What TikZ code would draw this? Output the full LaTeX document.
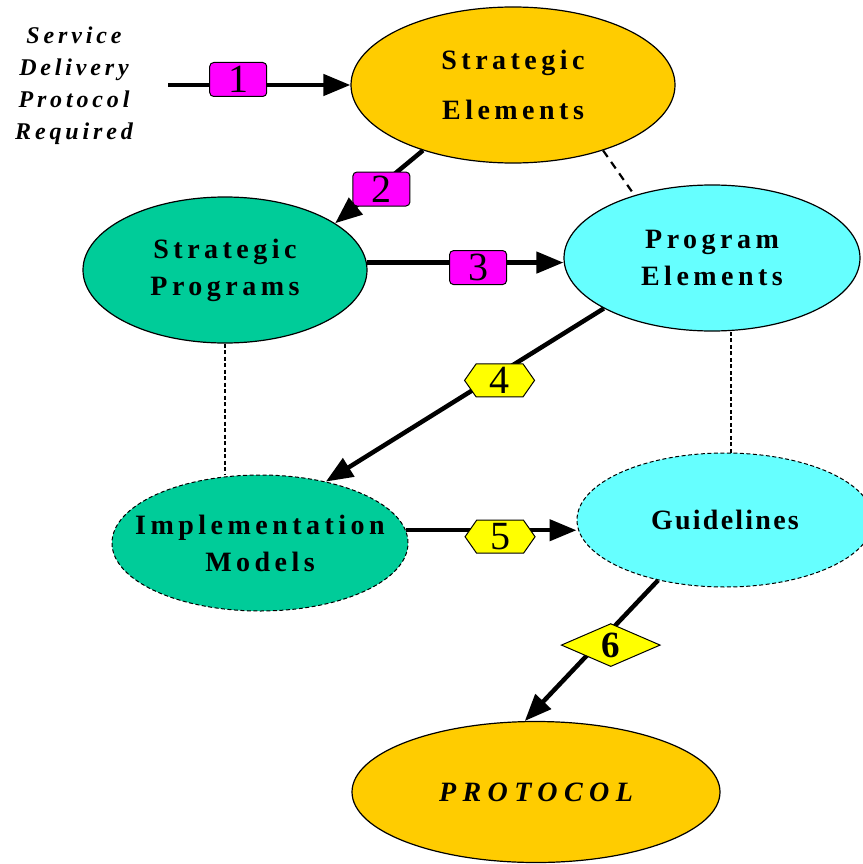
\documentclass[tikz,border=0pt]{standalone}
\usepackage{fontspec}
\setmainfont{Liberation Serif}
\newfontfamily\widefont[LetterSpace=16]{Liberation Serif}
\newfontfamily\guidefont[LetterSpace=8]{Liberation Serif}
\newfontfamily\protofont[LetterSpace=23]{Liberation Serif}
\usepackage{tikz}
\usetikzlibrary{shapes.geometric,shapes.symbols,arrows.meta}

\definecolor{elemorange}{RGB}{255,204,0}
\definecolor{progreen}{RGB}{0,204,153}
\definecolor{progcyan}{RGB}{102,255,255}
\definecolor{stepmagenta}{RGB}{255,0,255}
\definecolor{stepyellow}{RGB}{255,255,0}

\begin{document}
\begin{tikzpicture}[x=1pt,y=-1pt,
    blob/.style={ellipse, draw, line width=1.2pt, inner sep=0pt, align=center,
        font=\widefont\bfseries\fontsize{28}{37}\selectfont},
    blobdashed/.style={blob, dash pattern=on 4pt off 2.5pt, line width=1pt},
    flow/.style={line width=4.5pt, -{Triangle[length=27pt,width=21pt]}},
    stepnum/.style={draw, line width=1pt, fill=stepmagenta, rounded corners=4pt,
        minimum width=57pt, minimum height=34pt, inner sep=0pt,
        font=\fontsize{40}{40}\selectfont},
    hexnum/.style={signal, signal to=east and west, signal pointer angle=110,
        draw, line width=1pt, fill=stepyellow, minimum width=70pt,
        minimum height=33pt, inner sep=0pt, font=\fontsize{40}{40}\selectfont},
    diamondnum/.style={diamond, aspect=2.3, draw, line width=1pt, fill=stepyellow,
        minimum width=99pt, minimum height=43pt, inner sep=0pt,
        font=\bfseries\fontsize{37}{37}\selectfont},
    link/.style={dash pattern=on 4pt off 2.5pt, line width=1.4pt},
]
    \useasboundingbox (0,0) rectangle (862,864);

    % draw ellipses
    \node[blob, fill=elemorange, minimum width=324pt, minimum height=156pt] (selem) at (513,85) {Strategic\\[13pt]Elements};
    \node[blob, fill=progreen, minimum width=284pt, minimum height=146pt] (sprog) at (225,270) {Strategic\\Programs};
    \node[blob, fill=progcyan, minimum width=296pt, minimum height=146pt] (pelem) at (712,258) {Program\\Elements};
    \node[blobdashed, fill=progreen, minimum width=296pt, minimum height=136pt, inner xsep=-40pt] (impl) at (260,543) {Implementation\\Models};
    \node[blobdashed, fill=progcyan, minimum width=296pt, minimum height=134pt,
        font=\guidefont\bfseries\fontsize{28}{37}\selectfont] (guide) at (725,520) {Guidelines};
    \node[blob, fill=elemorange, minimum width=368pt, minimum height=141pt,
        font=\protofont\bfseries\itshape\fontsize{28}{37}\selectfont] (proto) at (536,792) {PROTOCOL};

    % draw request text
    \node[align=center, font=\widefont\bfseries\itshape\fontsize{24}{32}\selectfont] (request) at (74,86) {Service\\Delivery\\Protocol\\Required};
    \coordinate (start) at (168,85);

    % draw dashed links
    \draw[link, dash pattern=on 8pt off 6pt, line width=2.2pt] (selem.324) -- (pelem.141);
    \draw[link] (sprog.south) -- (sprog.south |- impl.north);
    \draw[link] (guide.85) -- (guide.85 |- pelem.south);

    % draw arrows
    \draw[flow] (start) -- node[stepnum, pos=0.385, yshift=5.5pt] (one) {1} (selem.west);
    \draw[flow] (selem.216) -- node[stepnum, pos=0.53, xshift=5pt] (two) {2} (sprog.23);
    \draw[flow] (sprog.3) -- node[stepnum, pos=0.566, yshift=-5pt] (three) {3} (sprog.3 -| pelem.west);
    \draw[flow] (pelem.205) -- node[hexnum, pos=0.375, yshift=-7pt] (four) {4} (impl.43);
    \draw[flow] (impl.5) -- node[hexnum, pos=0.552, yshift=-6.5pt] (five) {5} (impl.5 -| guide.west);
    \draw[flow] (guide.222) -- node[diamondnum, pos=0.4, xshift=6pt, yshift=-8.5pt] (six) {6} (proto.99);
\end{tikzpicture}
\end{document}
